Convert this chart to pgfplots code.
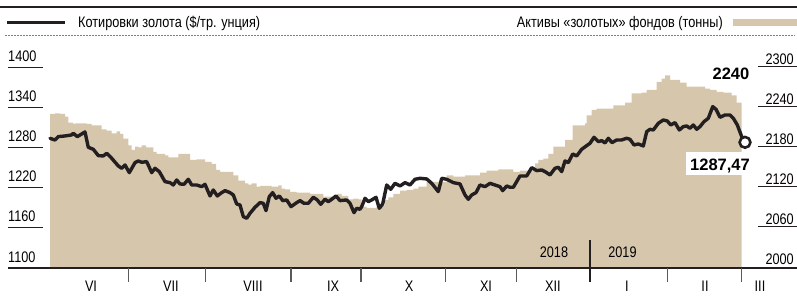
\documentclass[border=0pt]{standalone}
\usepackage{pgfplots}
\pgfplotsset{compat=1.18}
\usepackage{fontspec}
\setmainfont{Liberation Sans}[FakeStretch=0.83]
\newfontfamily\annotfont{Liberation Sans}
\definecolor{tan}{RGB}{214,198,172}
\definecolor{ink}{RGB}{35,31,32}
\definecolor{tickgray}{RGB}{90,90,90}
\begin{document}
\begin{tikzpicture}
\fontsize{15.3bp}{18bp}\selectfont
% ---- gold ETF holdings (tonnes), right scale ----
\begin{axis}[at={(0,0)}, anchor=south west, width=797bp, height=299bp, scale only axis,
  xmin=0, xmax=797, ymin=1952.45, ymax=2400.95, hide axis]
\addplot[fill=tan, draw=none, const plot] coordinates {
(50,2000) (50,2230) (55,2231) (60,2230) (65,2226) (68.3,2217) (73.3,2215) (75,2216) (86.7,2215)
(91.7,2213) (101.7,2207) (106.7,2205) (111.7,2201) (116.7,2204) (120,2200) (123.3,2193)
(128.3,2183) (131.7,2176) (135,2181) (138.3,2180) (141.7,2183) (146,2180) (153.3,2173)
(156.7,2170) (165,2168) (168.3,2165) (178.3,2170) (190,2161) (196.7,2162) (205,2158)
(211.7,2155) (216,2146) (220,2143) (233.3,2138) (238.3,2130) (245,2126) (248.3,2124)
(251.7,2126) (256.7,2121) (260,2122) (271.7,2121) (278.3,2123) (281.7,2118) (285,2117)
(290,2113) (296.7,2112) (310,2110) (323.3,2106) (336.7,2110) (341.7,2107) (348.3,2102)
(353.3,2103) (358.3,2102) (361.7,2091) (366.7,2089) (376.7,2093) (385,2101) (388.3,2105)
(393.3,2110) (400,2115) (406.7,2116) (413.3,2118) (418.3,2121) (426.7,2128) (446.7,2138)
(453.3,2136) (465,2138) (480,2142) (486.7,2145) (498.3,2147) (513.3,2143) (520,2145)
(535,2156) (538.3,2161) (543.3,2163) (548.3,2170) (553.3,2181) (565,2191) (572.7,2213)
(585,2216) (586.7,2228) (591.7,2236) (596.7,2238) (613.3,2243) (625,2247) (631.7,2261)
(641.7,2262) (646.7,2266) (656.7,2278) (661.7,2283) (665,2288) (670,2281) (680,2277)
(686.7,2271) (705,2268) (710,2266) (716.7,2263) (723.3,2262) (731.7,2258) (736.7,2247)
(741.7,2247) (741.7,2000)};
\end{axis}
% ---- decorations in pixel coordinates ----
\begin{scope}[yshift=299bp, x=1bp, y=-1bp]
\draw[ink, line width=2bp] (0,7.5) -- (797,7.5);
\draw[ink, line width=3.2bp] (7,22.5) -- (65,22.5);
\node[anchor=base west, inner sep=0] at (78,28) {Котировки золота (\$/тр. унция)};
\fill[tan] (733,19.5) rectangle (797,26);
\node[anchor=base east, inner sep=0] at (723,28) {Активы «золотых» фондов (тонны)};
\draw[gray, dash pattern=on 1.5bp off 1.5bp, line width=0.8bp] (5,35) -- (795,35);
% left scale
\foreach \v/\p in {1400/67.3,1340/107.3,1280/147.3,1220/187.3,1160/227.3}{
  \draw[ink, line width=1bp] (8,\p) -- (43,\p);
  \node[anchor=base west, inner sep=0] at (8,\p-5.5) {\v};
}
\node[anchor=base west, inner sep=0] at (8,263) {1100};
% right scale
\foreach \v/\p in {2300/66.7,2240/106.7,2180/146.7,2120/186.7,2060/226.7}{
  \draw[ink, line width=1bp] (758,\p) -- (797,\p);
  \node[anchor=base east, inner sep=0] at (794,\p-2.5) {\v};
}
\node[anchor=base east, inner sep=0] at (794,265) {2000};
% bottom axis
\draw[ink, line width=1.4bp] (8,268) -- (797,268);
\foreach \x in {128.3,205.7,291,361,445.7,516.3,667.7,741.7}{
  \draw[tickgray, line width=1.3bp] (\x,268) -- (\x,282);
}
\draw[ink, line width=1.3bp] (590,240) -- (590,282);
\foreach \x/\m in {91/VI,171/VII,253/VIII,333/IX,409/X,486/XI,553/XII,627/I,705/II,760/III}{
  \node[anchor=base, inner sep=0] at (\x,291.5) {\m};
}
\node[anchor=base, inner sep=0] at (554,258) {2018};
\node[anchor=base, inner sep=0] at (622.5,258) {2019};
\end{scope}
% ---- gold price, left scale ----
\begin{axis}[at={(0,0)}, anchor=south west, width=797bp, height=299bp, scale only axis,
  xmin=0, xmax=797, ymin=1052.45, ymax=1500.95, hide axis, clip=false]
\addplot[ink, line width=3.4bp, line join=round, line cap=round] coordinates {
(50,1293.5) (55,1291) (58.3,1296) (65,1297) (71.7,1298.5) (73.3,1301) (77.3,1296) (85,1303)
(88.3,1280) (93.3,1277) (98.3,1267.5) (103.3,1267) (106.7,1271) (111.7,1263.5) (118.3,1252)
(121.7,1248.5) (125,1253.5) (129.3,1242) (135,1257) (138.3,1259.5) (141.7,1257.5) (146.7,1258.5)
(151.7,1242) (155,1248.5) (159.3,1243.5) (165,1228.5) (170,1227) (173.3,1223.5) (176.7,1231)
(180,1225) (184,1224.5) (188.3,1232) (191.7,1223.5) (196.7,1223.5) (201.7,1221) (205,1224.5)
(210,1207) (213.3,1216) (217.3,1207) (221.7,1212) (225,1215) (230,1212) (233.3,1208.5)
(236.7,1195) (240,1193.5) (243.3,1176) (246.7,1173.5) (250,1181) (255,1190) (260,1197)
(263.3,1196) (266,1185) (269.3,1206) (272.7,1212) (276,1203.5) (279.3,1207) (282.7,1200)
(286.7,1201) (291,1191) (296.7,1197) (300,1200) (304,1196) (308.3,1196) (313.3,1205)
(317.3,1201) (320.7,1194.5) (325,1202) (328.3,1198.5) (331.7,1202) (336,1207) (340,1200)
(346.7,1201) (350,1196) (354,1182) (356.7,1188.5) (360,1187) (361.7,1191) (365,1203.5)
(368.3,1198.5) (371.7,1201) (376,1205) (379.3,1188.5) (382.7,1195) (386.7,1223.5) (390.7,1217)
(395,1226) (400,1222) (405,1227) (410,1223.5) (415,1232) (420,1233.5) (426.7,1232.5)
(431.7,1226) (438.3,1213.5) (441.7,1233.5) (446.7,1232) (453.3,1227) (460,1225) (465,1208.5)
(468.3,1202) (471.7,1208.5) (476,1212) (480,1223.5) (485,1221) (490,1226) (495,1223.5)
(500,1221) (502.7,1215) (506.7,1222) (510,1220) (513.3,1220) (520,1237) (526.7,1237)
(531.7,1249.5) (536.7,1245) (541.7,1246) (545,1243.5) (550,1238.5) (555,1248.5) (558.3,1250)
(561.7,1243.5) (565,1259.5) (568.3,1257) (572.7,1270) (576.7,1267) (581.7,1277) (586.7,1282.5)
(590,1286) (594,1295) (598.3,1288.5) (601.7,1290) (605,1286.5) (608.3,1293.5) (612,1287)
(616.7,1291) (621.7,1291) (626.7,1293.5) (630,1292) (634,1283.5) (638.3,1285) (643.3,1282)
(646.7,1303.5) (650,1307) (653.3,1306) (658.3,1316) (663.3,1321) (667.3,1319.5) (670.7,1313.5)
(675,1317) (679.3,1306) (683.3,1311) (686.7,1312) (690,1308.5) (693.3,1313.5) (696.7,1307)
(700,1311) (704,1318.5) (708.3,1323.5) (712.7,1341) (716,1337) (720,1325) (725,1328.5)
(730,1328.5) (733.3,1323.5) (737.3,1313.5) (741.7,1296) (745,1287.47)};
\addplot[only marks, mark=*, mark size=5.4bp, mark options={fill=white, draw=ink, line width=2.6bp}]
  coordinates {(745,1287.47)};
\end{axis}
% ---- annotations ----
\begin{scope}[yshift=299bp, x=1bp, y=-1bp]
\node[anchor=base, inner sep=0] at (731,80) {\annotfont\bfseries\fontsize{16.5bp}{19bp}\selectfont 2240};
\fill[white] (686,152) rectangle (753,175);
\node[anchor=base, inner sep=0] at (720,170.5) {\annotfont\bfseries\fontsize{16.5bp}{19bp}\selectfont 1287,47};
\end{scope}
\pgfresetboundingbox
\useasboundingbox (0,0) rectangle (797bp,299bp);
\end{tikzpicture}
\end{document}
